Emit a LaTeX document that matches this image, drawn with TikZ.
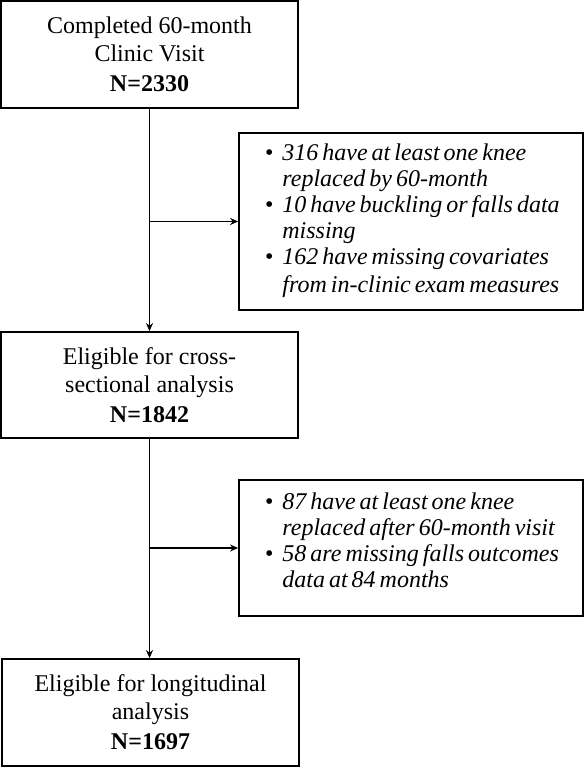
\documentclass[tikz,border=0pt]{standalone}
\usepackage{fontspec}
\setmainfont{Liberation Serif}
\usetikzlibrary{arrows.meta}
\newcommand\mysidefont{\fontsize{24}{26}\selectfont\itshape}
\newcommand\tightsp{\spaceskip=4pt plus 1pt minus 0.5pt\xspaceskip=4pt\relax}
\begin{document}
\begin{tikzpicture}[x=1pt,y=-1pt,
  mainbox/.style={draw,line width=1.8pt,minimum width=297pt,minimum height=107pt,inner sep=0pt,align=center,font=\fontsize{24}{28}\selectfont},
  sidebox/.style={draw,line width=1.8pt,minimum width=344pt,text width=292pt,inner xsep=26pt,inner ysep=0pt,align=left,font=\mysidefont},
  conn/.style={line width=1.8pt,-{Stealth[length=8pt,width=7pt]}}]
\useasboundingbox (0,0) rectangle (584,768);
\node[mainbox] (b1) at (149.5,54.5) {Completed 60-month\\Clinic Visit\\[2pt]\textbf{N=2330}};
\node[sidebox,minimum height=177pt] (s1) at (411,221.5) {\tightsp\begin{tabular}{@{}l@{\hspace{9pt}}l@{}}
\upshape\textbullet & 316 have at least one knee\\
 & replaced by 60-month\\
\upshape\textbullet & 10 have buckling or falls data\\
 & missing\\
\upshape\textbullet & 162 have missing covariates\\[2pt]
 & from in-clinic exam measures
\end{tabular}};
\node[mainbox,minimum height=106pt] (b2) at (149.5,385) {Eligible for cross-\\sectional analysis\\[2pt]\textbf{N=1842}};
\node[sidebox,minimum height=136pt] (s2) at (411,548) {\tightsp\raisebox{5pt}[\height][\depth]{\begin{tabular}{@{}l@{\hspace{9pt}}l@{}}
\upshape\textbullet & 87 have at least one knee\\
 & replaced after 60-month visit\\
\upshape\textbullet & 58 are missing falls outcomes\\
 & data at 84 months
\end{tabular}}};
\node[mainbox] (b3) at (150.5,712.5) {Eligible for longitudinal\\analysis\\[2pt]\textbf{N=1697}};
\coordinate (j1) at (b1.south |- s1.west);
\coordinate (j2) at (b2.south |- s2.west);
\draw[conn] (b1.south) -- (b1.south |- b2.north);
\draw[conn] (j1) -- (s1.west);
\draw[conn] (b2.south) -- (b2.south |- b3.north);
\draw[conn] (j2) -- (s2.west);
\end{tikzpicture}
\end{document}
